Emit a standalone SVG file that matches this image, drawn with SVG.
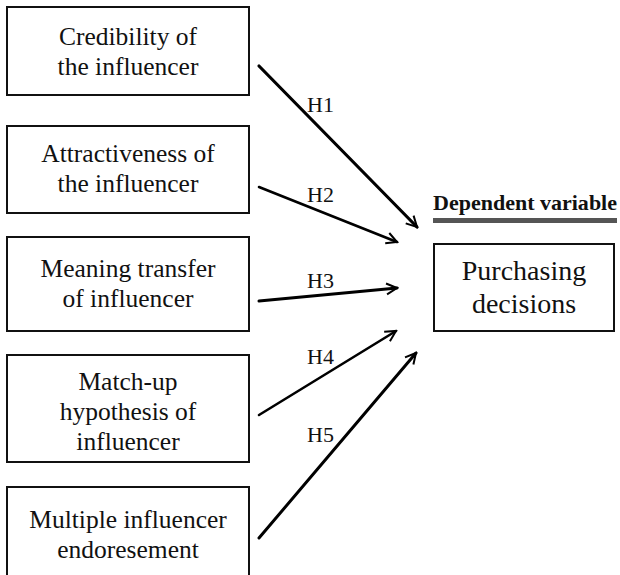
<svg xmlns="http://www.w3.org/2000/svg" width="620" height="575" viewBox="0 0 620 575">
<defs>
<style>
.box{fill:#fff;stroke:#111;stroke-width:2}
.t{font-family:'Liberation Serif','Times New Roman',serif;font-size:25.5px;fill:#111;text-anchor:middle}
.big{font-size:28px}
.lbl{font-family:'Liberation Serif','Times New Roman',serif;font-size:22px;fill:#111}
.hd{font-family:'Liberation Serif','Times New Roman',serif;font-size:21px;font-weight:bold;fill:#111}
.c{fill:none;stroke:#000;stroke-width:2.6;stroke-linecap:round}
</style>
<marker id="ah" markerUnits="userSpaceOnUse" markerWidth="14" markerHeight="14" viewBox="0 0 14 14" refX="12" refY="7" orient="auto">
<path d="M1.5,1.5 L12,7 L1.5,12.5" fill="none" stroke="#000" stroke-width="2"/>
</marker>
</defs>
<rect width="620" height="575" fill="#fff"/>
<g id="n1"><rect class="box" x="7" y="7" width="242" height="88"/><text class="t" x="128" y="45">Credibility of</text><text class="t" x="128" y="75">the influencer</text></g>
<g id="n2"><rect class="box" x="7" y="126" width="242" height="87"/><text class="t" x="128" y="162">Attractiveness of</text><text class="t" x="128" y="192">the influencer</text></g>
<g id="n3"><rect class="box" x="7" y="237" width="242" height="94"/><text class="t" x="128" y="277">Meaning transfer</text><text class="t" x="128" y="307">of influencer</text></g>
<g id="n4"><rect class="box" x="7" y="355" width="242" height="107"/><text class="t" x="128" y="390">Match-up</text><text class="t" x="128" y="420">hypothesis of</text><text class="t" x="128" y="450">influencer</text></g>
<g id="n5"><rect class="box" x="7" y="487" width="242" height="100"/><text class="t" x="128" y="528">Multiple influencer</text><text class="t" x="128" y="558">endoresement</text></g>
<g id="dv"><text class="hd" x="433" y="210" textLength="184" lengthAdjust="spacingAndGlyphs">Dependent variable</text><rect x="433" y="218" width="184" height="5" fill="#555"/></g>
<g id="n6"><rect class="box" x="434" y="244" width="180" height="87"/><text class="t big" x="524" y="280">Purchasing</text><text class="t big" x="524" y="313">decisions</text></g>
<g id="connectors">
<line class="c" x1="259" y1="66" x2="417" y2="227" marker-end="url(#ah)" style="stroke-width:3.2"/>
<line class="c" x1="259" y1="187" x2="397" y2="242" marker-end="url(#ah)"/>
<line class="c" x1="259" y1="301" x2="397" y2="288" marker-end="url(#ah)" style="stroke-width:3"/>
<line class="c" x1="259" y1="415" x2="396" y2="331" marker-end="url(#ah)"/>
<line class="c" x1="259" y1="538" x2="416" y2="353" marker-end="url(#ah)" style="stroke-width:3"/>
<text class="lbl" x="307" y="112">H1</text>
<text class="lbl" x="307" y="202">H2</text>
<text class="lbl" x="307" y="288">H3</text>
<text class="lbl" x="307" y="364">H4</text>
<text class="lbl" x="307" y="442">H5</text>
</g>
</svg>
